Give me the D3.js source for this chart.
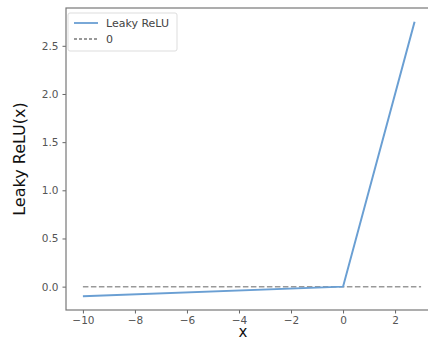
<!DOCTYPE html>
<html lang="en">
<head>
    <meta charset="utf-8"/>
    <title>Leaky ReLU</title>
    <script src="https://d3js.org/d3.v7.min.js"></script>
    <style>
        body { margin: 0; background: #fff; }
        #chart { width: 428px; height: 341px; overflow: hidden; }
        .tick text { font-family: "DejaVu Sans", sans-serif; font-size: 10.5px; fill: #555; }
    </style>
</head>
<body>
    <div id="chart"></div>

    <script>
        // Leaky ReLU curve (alpha = 0.01)
        const xValues = [-10, 0, 2.75];
        const yValues = [-0.1, 0, 2.75];
        // zero reference line
        const zeroX = [-10, 3];
        const zeroY = [0, 0];
        const xTicks = [-10, -8, -6, -4, -2, 0, 2];
        const yTicks = [0.0, 0.5, 1.0, 1.5, 2.0, 2.5];
        const seriesNames = ["Leaky ReLU", "0"];

        const width = 428, height = 341;
        const margin = {top: 8, right: -10, bottom: 31, left: 66};

        const svg = d3.select('#chart').append('svg')
            .attr('width', width)
            .attr('height', height);

        const x = d3.scaleLinear()
            .domain([-10.65, 3.65])
            .range([margin.left, width - margin.right]);
        const y = d3.scaleLinear()
            .domain([-0.2425, 2.8925])
            .range([height - margin.bottom, margin.top]);

        const fmt = d => d3.format('.1f')(d);

        // axes
        svg.append('g')
            .attr('transform', `translate(0,${height - margin.bottom})`)
            .call(d3.axisBottom(x).tickValues(xTicks).tickSize(3.5).tickPadding(3)
                .tickFormat(d => String(d).replace('-', '\u2212')))
            .call(g => g.select('.domain').remove())
            .selectAll('line').attr('stroke', '#666');

        svg.append('g')
            .attr('transform', `translate(${margin.left},0)`)
            .call(d3.axisLeft(y).tickValues(yTicks).tickSize(3.5).tickPadding(4).tickFormat(fmt))
            .call(g => g.select('.domain').remove())
            .selectAll('line').attr('stroke', '#666');

        // frame
        svg.append('rect')
            .attr('x', margin.left)
            .attr('y', margin.top)
            .attr('width', width - margin.right - margin.left)
            .attr('height', height - margin.bottom - margin.top)
            .attr('fill', 'none')
            .attr('stroke', '#777')
            .attr('stroke-width', 1.2);

        const line = d3.line().x(d => x(d[0])).y(d => y(d[1]));

        svg.append('path')
            .datum(d3.zip(zeroX, zeroY))
            .attr('d', line)
            .attr('fill', 'none')
            .attr('stroke', '#999')
            .attr('stroke-width', 1.5)
            .attr('stroke-dasharray', '5.5,2.5');

        svg.append('path')
            .datum(d3.zip(xValues, yValues))
            .attr('d', line)
            .attr('fill', 'none')
            .attr('stroke', '#6a9fd3')
            .attr('stroke-width', 2);

        // legend
        const lg = svg.append('g').attr('transform', 'translate(68,13)');
        lg.append('rect')
            .attr('width', 109).attr('height', 38).attr('rx', 2)
            .attr('fill', '#fff').attr('stroke', '#ddd');
        const styles = [
            {stroke: '#6a9fd3', dash: null},
            {stroke: '#999', dash: '3,2'}
        ];
        seriesNames.forEach((name, i) => {
            const yy = 10 + i * 16;
            lg.append('line')
                .attr('x1', 6).attr('x2', 30).attr('y1', yy).attr('y2', yy)
                .attr('stroke', styles[i].stroke).attr('stroke-width', 1.8)
                .attr('stroke-dasharray', styles[i].dash);
            lg.append('text')
                .attr('x', 38).attr('y', yy + 4)
                .style('font-family', '"DejaVu Sans", sans-serif')
                .style('font-size', '11px')
                .attr('fill', '#444')
                .text(name);
        });

        // axis labels
        svg.append('text')
            .attr('transform', `translate(25,${(margin.top + height - margin.bottom) / 2}) rotate(-90)`)
            .attr('text-anchor', 'middle')
            .style('font-family', '"DejaVu Sans", sans-serif')
            .style('font-size', '16px')
            .attr('fill', '#111')
            .text('Leaky ReLU(x)');

        svg.append('text')
            .attr('x', 243).attr('y', 337)
            .attr('text-anchor', 'middle')
            .style('font-family', '"DejaVu Sans", sans-serif')
            .style('font-size', '15px')
            .attr('fill', '#111')
            .text('x');
    </script>
</body>
</html>
